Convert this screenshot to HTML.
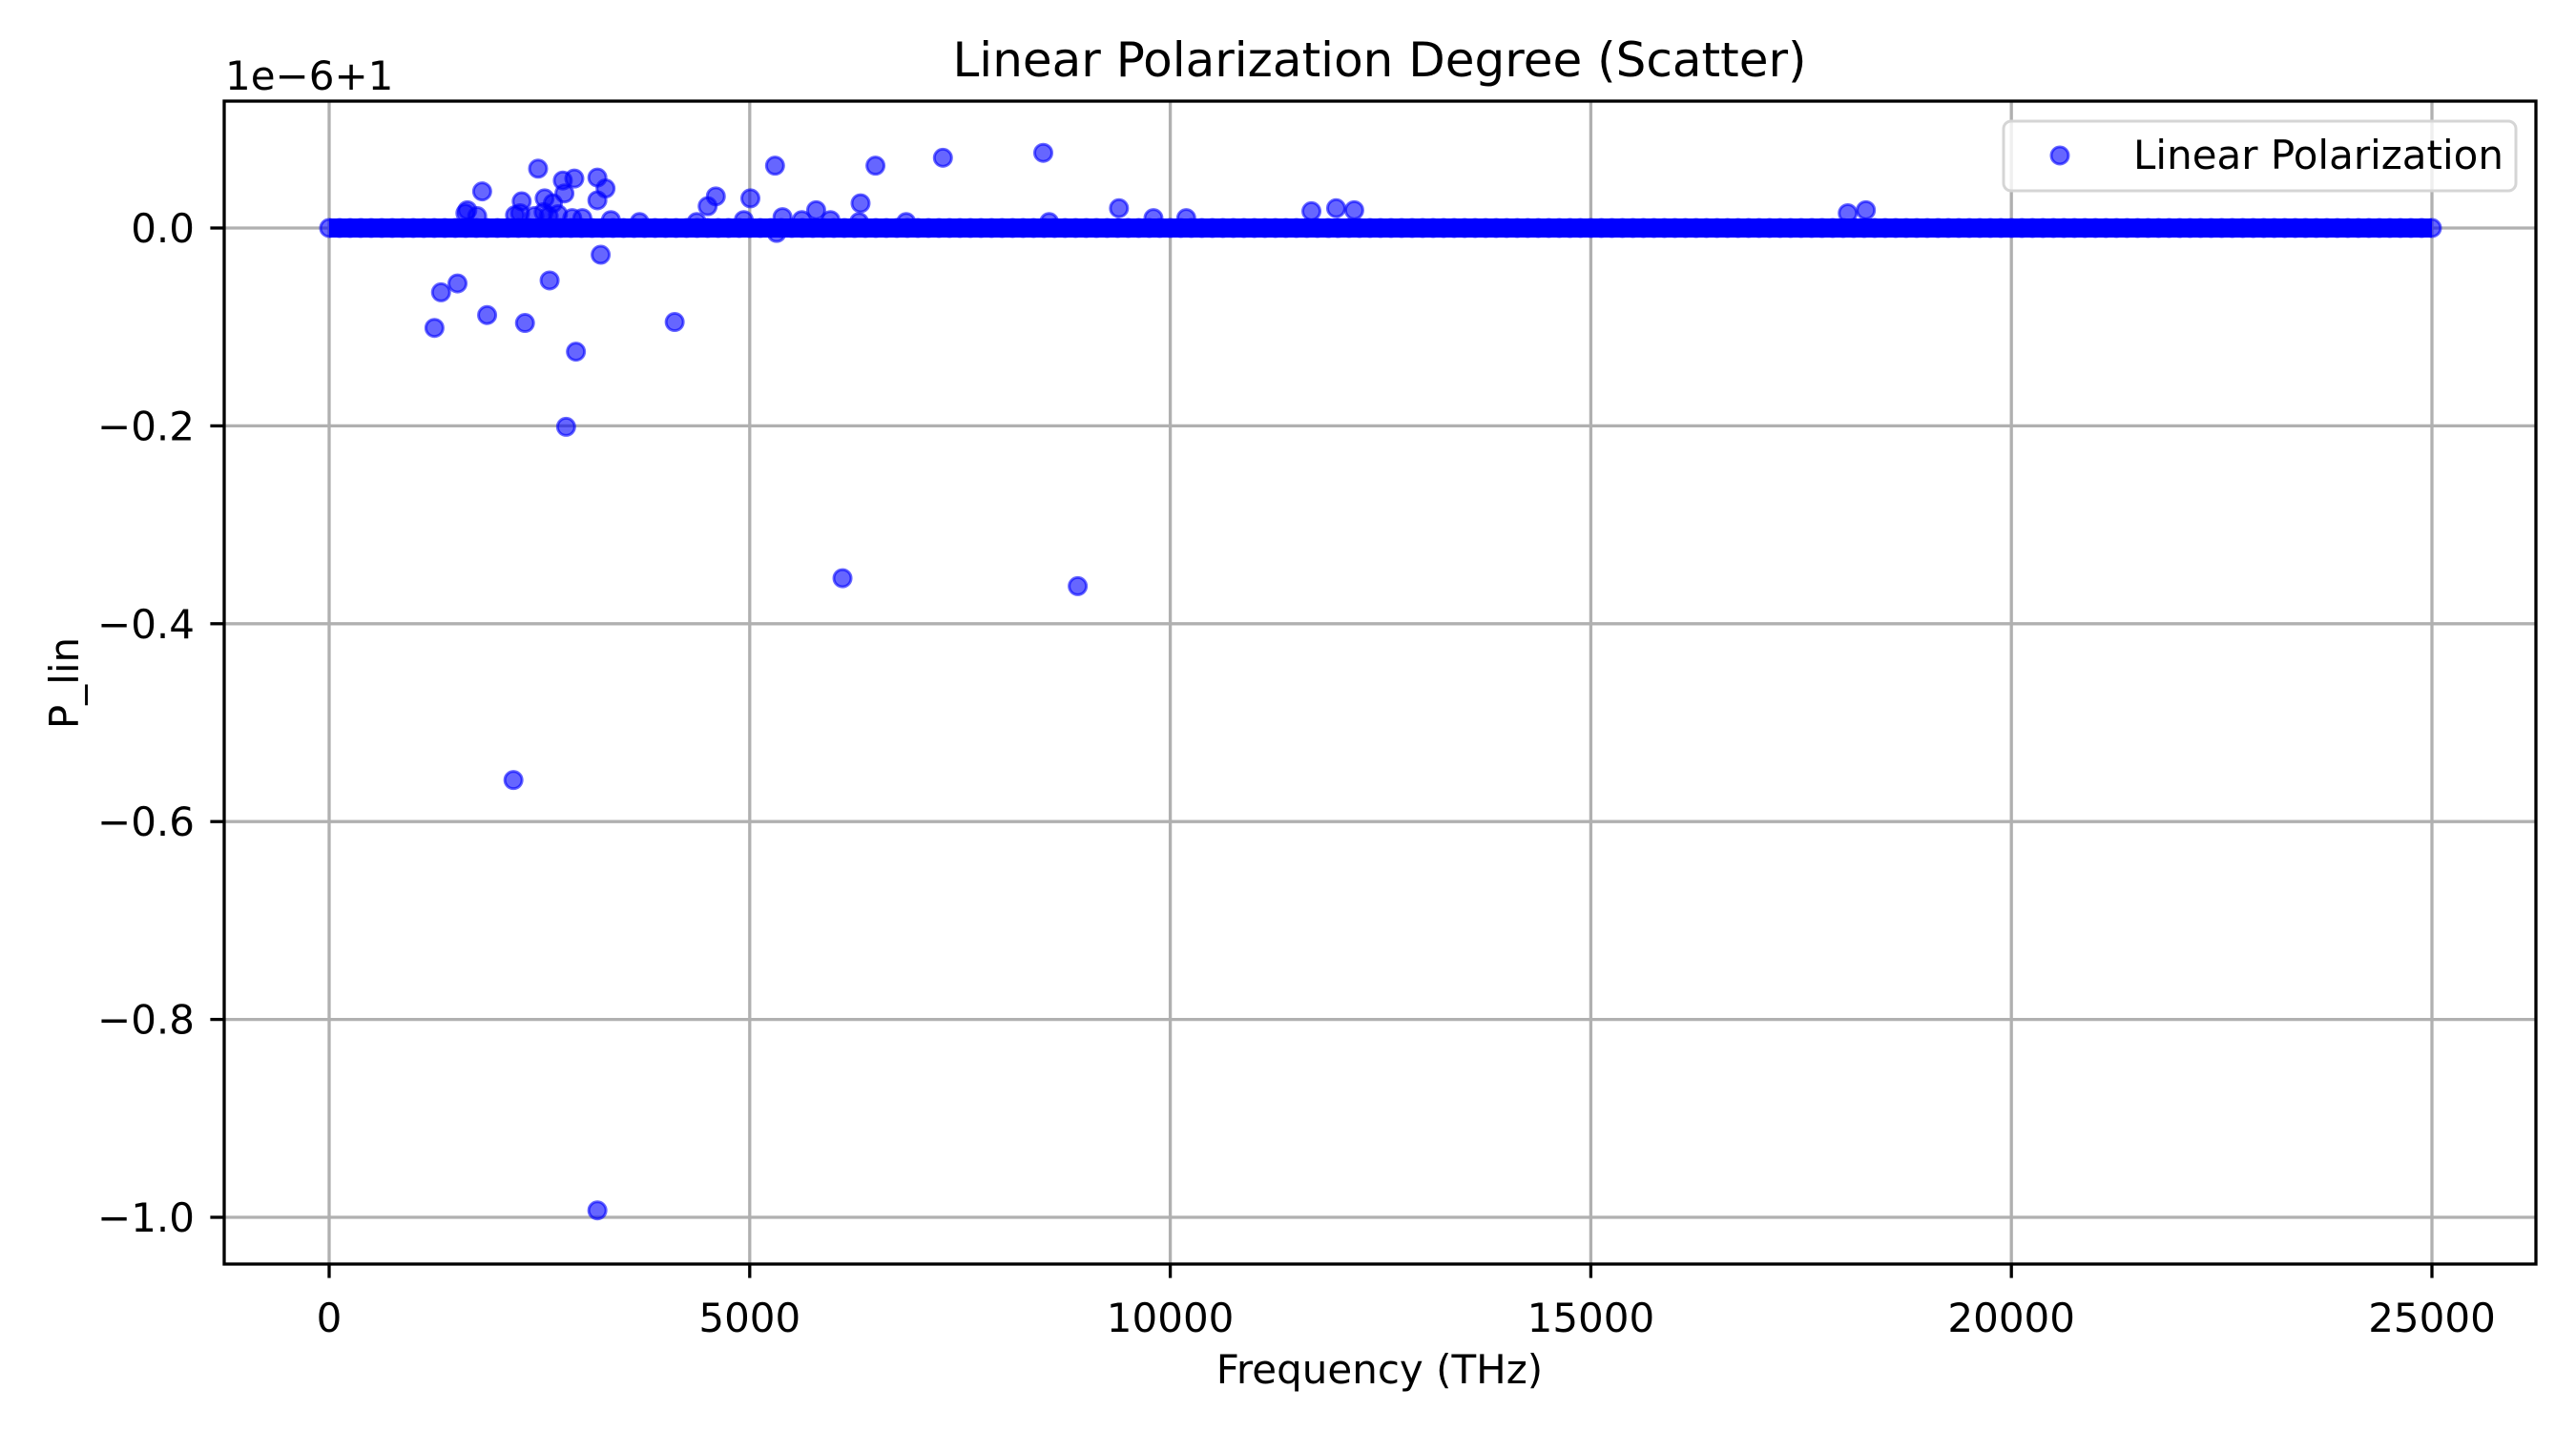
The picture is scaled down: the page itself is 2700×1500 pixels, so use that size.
<!DOCTYPE html>
<html><head><meta charset="utf-8"><style>
html,body{margin:0;padding:0;background:#fff}
svg{display:block}
text{font-family:"DejaVu Sans","Liberation Sans",sans-serif;fill:#000}
</style></head><body>
<svg id="chart" width="2700" height="1500" viewBox="0 0 2700 1500" xmlns="http://www.w3.org/2000/svg">
<rect x="0" y="0" width="2700" height="1500" fill="#fff"/>
<g id="grid"></g>
<g id="points"></g>
<g id="axes"></g>
<text x="1446" y="80" font-size="50" text-anchor="middle">Linear Polarization Degree (Scatter)</text>
<text x="1446" y="1450" font-size="42" text-anchor="middle">Frequency (THz)</text>
<text transform="translate(82,716) rotate(-90)" font-size="42" text-anchor="middle">P_lin</text>
<text x="236" y="94" font-size="42">1e−6+1</text>
<g>
<rect x="2100" y="127" width="537" height="73" rx="8" fill="#fff" fill-opacity="0.8" stroke="#d5d5d5" stroke-width="3"/>
<circle cx="2159" cy="163" r="9" fill="#0000ff" fill-opacity="0.6" stroke="#0000ff" stroke-opacity="0.6" stroke-width="3"/>
<text x="2236" y="177" font-size="42">Linear Polarization</text>
</g>
</svg>
<script>
const xTicks = [0, 5000, 10000, 15000, 20000, 25000];
const yTicks = [0.0, -0.2, -0.4, -0.6, -0.8, -1.0];
const yTickLabels = ["0.0", "−0.2", "−0.4", "−0.6", "−0.8", "−1.0"];
const outlierFreqs = [1252,1330,1526,1878,2191,2328,2621,2817,2934,3228,3189,4108,6103,8900,5320,
 1819,2484,2778,2915,3189,3286,2797,2562,2289,3189,4597,5008,5301,6495,7297,8490,6318,5790,9390,11678,11972,12187,18055,18270,1643,4500,2660,9800,10190,
 1620,1760,2210,2270,2440,2550,2610,2720,2890,3010,3350,3690,4370,4930,5390,5620,5960,6300,6860,8560];
const outlierValues = [-0.101,-0.065,-0.056,-0.088,-0.558,-0.096,-0.053,-0.201,-0.125,-0.027,-0.993,-0.095,-0.354,-0.362,-0.005,
 0.037,0.060,0.048,0.050,0.051,0.040,0.035,0.030,0.027,0.028,0.032,0.030,0.063,0.063,0.071,0.076,0.025,0.018,0.020,0.017,0.020,0.018,0.015,0.018,0.018,0.022,0.025,0.010,0.010,
 0.015,0.012,0.013,0.015,0.012,0.016,0.012,0.014,0.010,0.010,0.008,0.006,0.006,0.008,0.011,0.008,0.008,0.006,0.006,0.006];
const baselineStart = 0, baselineEnd = 25000, baselineStep = 125, baselineValue = 0;

const L=235,R=2658,T=106,B=1325;
const X0=345, XPX=(2549-345)/25000;
const Y0=239, YPX=1037;
function xs(v){return X0+v*XPX;}
function ys(v){return Y0-v*YPX;}
const NS="http://www.w3.org/2000/svg";
function mk(tag,attrs,parent){const e=document.createElementNS(NS,tag);for(const k in attrs)e.setAttribute(k,attrs[k]);parent.appendChild(e);return e;}
const grid=document.getElementById('grid'),axes=document.getElementById('axes'),pts=document.getElementById('points');
xTicks.forEach((t,i)=>{
 const x=xs(t);
 const g=mk('line',{x1:x,x2:x,y1:T,y2:B,stroke:'#b0b0b0','stroke-width':3.3},grid);
 
 
 const tk=mk('line',{x1:x,x2:x,y1:B,y2:B+14.6,stroke:'#000','stroke-width':3.3},axes);
 
 
 const tx=mk('text',{x:x,y:1396,'font-size':42,'text-anchor':'middle'},axes);
 tx.textContent=String(t);
 
 
});
yTicks.forEach((t,i)=>{
 const y=ys(t);
 const g=mk('line',{x1:L,x2:R,y1:y,y2:y,stroke:'#b0b0b0','stroke-width':3.3},grid);
 
 
 const tk=mk('line',{x1:L-14.6,x2:L,y1:y,y2:y,stroke:'#000','stroke-width':3.3},axes);
 
 
 const tx=mk('text',{x:204,y:y+15,'font-size':42,'text-anchor':'end'},axes);
 tx.textContent=yTickLabels[i];
 
 
});
const frame=mk('rect',{x:L,y:T,width:R-L,height:B-T,fill:'none',stroke:'#000','stroke-width':3.3},axes);


function dot(f,v){
 const c=mk('circle',{cx:xs(f),cy:ys(v),r:9,fill:'#0000ff','fill-opacity':0.6,stroke:'#0000ff','stroke-opacity':0.6,'stroke-width':3},pts);
 
 
}
for(let f=baselineStart;f<=baselineEnd;f+=baselineStep){dot(f,baselineValue);}
const band=mk('rect',{x:xs(baselineStart),y:ys(baselineValue)-10,width:xs(baselineEnd)-xs(baselineStart),height:20,fill:'#0000ff'},pts);


outlierFreqs.forEach((f,i)=>dot(f,outlierValues[i]));
</script>
</body></html>
